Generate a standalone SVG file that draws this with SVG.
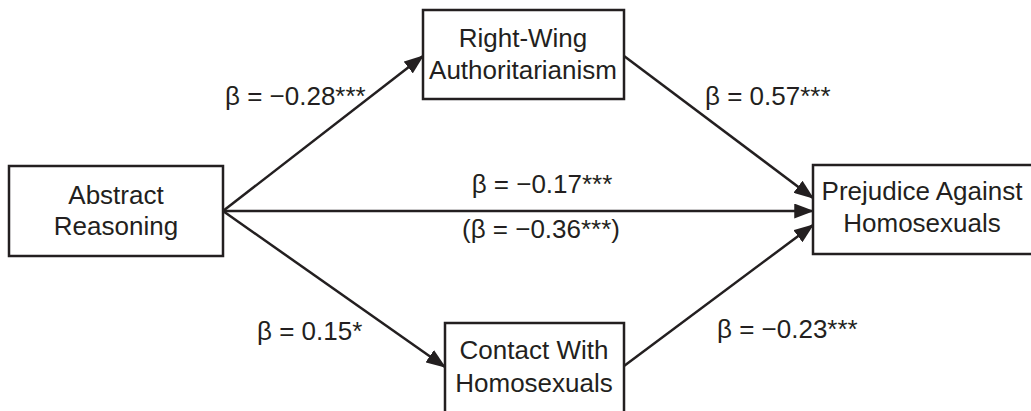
<svg xmlns="http://www.w3.org/2000/svg" width="1031" height="411" viewBox="0 0 1031 411">
<style>
.box{fill:#fff;stroke:#231f20;stroke-width:2.5}
.t{font-family:"Liberation Sans",Arial,sans-serif;font-size:26px;fill:#231f20}
.c{text-anchor:middle}
.ln{stroke:#231f20;stroke-width:2.5;fill:none;marker-end:url(#ah)}
</style>
<defs>
<marker id="ah" markerWidth="8" markerHeight="6" refX="7.5" refY="3" orient="auto" markerUnits="strokeWidth" viewBox="0 0 8 6">
<path d="M0,0 L8,3 L0,6 Z" fill="#231f20"/>
</marker>
</defs>
<rect width="1031" height="411" fill="#fff"/>
<g id="connectors">
<line class="ln" x1="223" y1="211" x2="423" y2="56"/>
<line class="ln" x1="223" y1="211" x2="813" y2="211"/>
<line class="ln" x1="223" y1="211" x2="445" y2="367"/>
<line class="ln" x1="624" y1="56" x2="813" y2="198"/>
<line class="ln" x1="624" y1="366" x2="813" y2="225"/>
</g>
<g id="abstract">
<rect class="box" x="9" y="166" width="214" height="90"/>
<text class="t c" x="116" y="204">Abstract</text>
<text class="t c" x="116" y="235">Reasoning</text>
</g>
<g id="rwa">
<rect class="box" x="423" y="10" width="201" height="89"/>
<text class="t c" x="523" y="47">Right-Wing</text>
<text class="t c" x="523" y="79">Authoritarianism</text>
</g>
<g id="contact">
<rect class="box" x="445" y="323" width="179" height="100"/>
<text class="t c" x="534" y="359">Contact With</text>
<text class="t c" x="534" y="392">Homosexuals</text>
</g>
<g id="prejudice">
<rect class="box" x="813" y="165" width="230" height="89"/>
<text class="t c" x="922" y="200">Prejudice Against</text>
<text class="t c" x="922" y="232">Homosexuals</text>
</g>
<g id="labels">
<text class="t" x="225" y="105">β = −0.28***</text>
<text class="t" x="705" y="105">β = 0.57***</text>
<text class="t c" x="542" y="193">β = −0.17***</text>
<text class="t c" x="541" y="238">(β = −0.36***)</text>
<text class="t" x="257" y="340">β = 0.15*</text>
<text class="t" x="717" y="338">β = −0.23***</text>
</g>
</svg>
